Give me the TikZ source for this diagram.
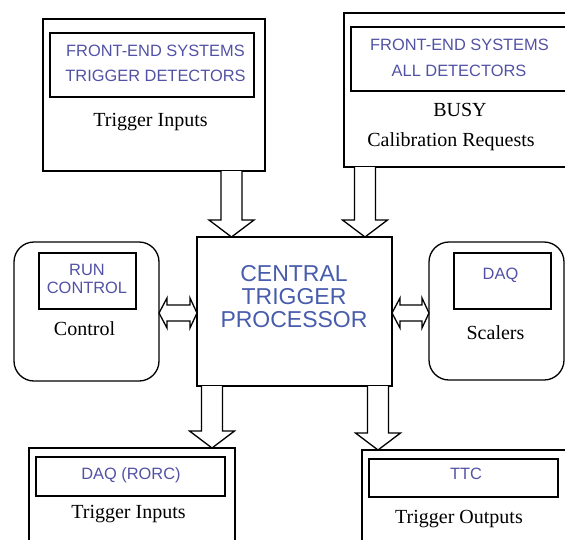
\documentclass[tikz,border=0pt]{standalone}
\usepackage{fontspec}
\setmainfont{Liberation Serif}
\newfontfamily\labelsans{Liberation Sans}
\usetikzlibrary{calc}
\definecolor{ctpblue}{RGB}{72,92,172}
\definecolor{labelblue}{RGB}{82,82,165}
\tikzset{
  box/.style={draw, line width=1.3pt},
  rbox/.style={draw, line width=1.3pt, rounded corners=20pt},
  blk/.style={draw, line width=1.3pt, fill=white, line join=miter},
  bluetxt/.style={inner sep=0pt, anchor=base, text=labelblue, font=\labelsans\fontsize{16.4}{18}\selectfont},
  sertxt/.style={inner sep=0pt, anchor=base, font=\fontsize{20}{22}\selectfont},
}
% vertical block arrow from #1 (top of shaft) down to #2 (tip)
\newcommand\downblock[2]{%
  \draw[blk] let \p1=(#1), \p2=(#2) in
    (\x1-10.5pt,\y1) -- (\x1-10.5pt,\y2+17pt) -- (\x1-22.5pt,\y2+17pt) --
    (\x2,\y2) -- (\x1+22.5pt,\y2+17pt) -- (\x1+10.5pt,\y2+17pt) -- (\x1+10.5pt,\y1);}
% horizontal double block arrow between tips #1 (left) and #2 (right)
\newcommand\twinblock[2]{%
  \draw[blk] let \p1=(#1), \p2=(#2) in
    (\x1,\y1) -- (\x1+8pt,\y1+15pt) -- (\x1+8pt,\y1+8pt) -- (\x2-7pt,\y1+8pt) --
    (\x2-7pt,\y1+15pt) -- (\x2,\y2) -- (\x2-7pt,\y1-15pt) -- (\x2-7pt,\y1-8pt) --
    (\x1+8pt,\y1-8pt) -- (\x1+8pt,\y1-15pt) -- cycle;}
\begin{document}
\begin{tikzpicture}[x=1pt,y=-1pt]
\useasboundingbox (0,0) rectangle (565,539);
\clip (0,0) rectangle (565,539);

% central trigger processor
\draw[box] (197,237) rectangle (392,386);
\node[inner sep=0pt, anchor=base, text=ctpblue, font=\labelsans\fontsize{23}{23}\selectfont] (ctp1) at (294,281) {CENTRAL};
\node[inner sep=0pt, anchor=base, text=ctpblue, font=\labelsans\fontsize{23}{23}\selectfont] (ctp2) at (294,304) {TRIGGER};
\node[inner sep=0pt, anchor=base, text=ctpblue, font=\labelsans\fontsize{23}{23}\selectfont] (ctp3) at (294,327) {PROCESSOR};

% front-end systems, trigger detectors
\draw[box] (43,19) rectangle (265,171);
\draw[box] (50,33) rectangle (254,97);
\node[bluetxt] (fe1) at (155.5,56) {FRONT-END SYSTEMS};
\node[bluetxt] (fe2) at (155.5,81) {TRIGGER DETECTORS};
\node[sertxt] (ti1) at (150.5,126) {Trigger Inputs};

% front-end systems, all detectors
\draw[box] (344,13) rectangle (580,167);
\draw[box] (351,27) rectangle (580,91);
\node[bluetxt] (fa1) at (459.5,50) {FRONT-END SYSTEMS};
\node[bluetxt] (fa2) at (459,76) {ALL DETECTORS};
\node[sertxt] (busy) at (460,116) {BUSY};
\node[sertxt] (calib) at (451,146) {Calibration Requests};

% run control
\draw[rbox] (14,242) rectangle (159,381);
\draw[box] (39,253) rectangle (136,309);
\node[bluetxt] (rc1) at (87,275) {RUN};
\node[bluetxt] (rc2) at (87,293) {CONTROL};
\node[sertxt] (ctl) at (84.5,335) {Control};

% DAQ scalers
\draw[rbox] (429,242) rectangle (564,380);
\draw[box] (454,253) rectangle (551,309);
\node[bluetxt] (daq) at (500.5,279) {DAQ};
\node[sertxt] (scl) at (495.5,339) {Scalers};

% DAQ (RORC)
\draw[box] (29,448) rectangle (235,580);
\draw[box] (36,457) rectangle (225,496);
\node[bluetxt] (rorc) at (131,479) {DAQ (RORC)};
\node[sertxt] (ti2) at (128.5,518) {Trigger Inputs};

% TTC
\draw[box] (362,450) rectangle (580,580);
\draw[box] (369,459) rectangle (558,497);
\node[bluetxt] (ttc) at (466,479) {TTC};
\node[sertxt] (tout) at (459,523) {Trigger Outputs};

% arrow end points
\coordinate (a1s) at (231.5,171);  \coordinate (a1t) at (231.5,237);
\coordinate (a2s) at (365,167);    \coordinate (a2t) at (365,237);
\coordinate (a3s) at (212,386);    \coordinate (a3t) at (212,448);
\coordinate (a4s) at (378,386);    \coordinate (a4t) at (378,450);
\coordinate (l1) at (159,313);     \coordinate (l2) at (197,313);
\coordinate (r1) at (392,313);     \coordinate (r2) at (429,313);

\downblock{a1s}{a1t}
\downblock{a2s}{a2t}
\downblock{a3s}{a3t}
\downblock{a4s}{a4t}
\twinblock{l1}{l2}
\twinblock{r1}{r2}
\end{tikzpicture}
\end{document}
